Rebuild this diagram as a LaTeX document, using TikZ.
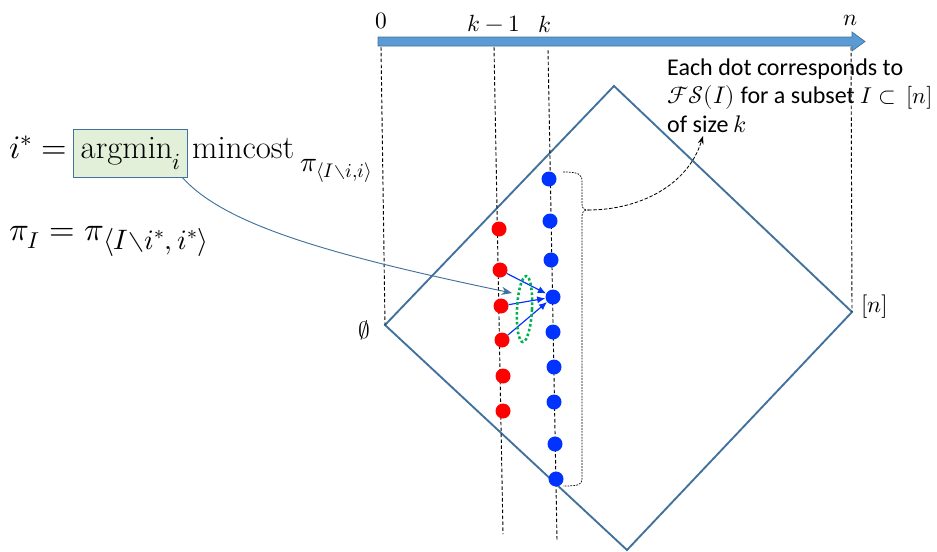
\documentclass[tikz,border=0pt]{standalone}
\usepackage{fontspec}
\usepackage{unicode-math}
\setmathfont{Latin Modern Math}
\newfontfamily\calibri{Carlito}
\usetikzlibrary{arrows.meta,calc}
\definecolor{steel}{RGB}{65,113,156}
\definecolor{axisfill}{RGB}{91,155,213}
\definecolor{dotred}{RGB}{255,0,0}
\definecolor{dotblue}{RGB}{0,51,255}
\definecolor{boxgreen}{RGB}{226,240,217}
\definecolor{ellgreen}{RGB}{0,176,80}
\tikzset{
  guide/.style={draw=black, line width=0.8pt, dash pattern=on 3pt off 2pt},
  reddot/.style={circle, fill=dotred, minimum size=12.8pt, inner sep=0pt},
  bluedot/.style={circle, fill=dotblue, minimum size=12.8pt, inner sep=0pt},
  dotarrow/.style={draw=dotblue, line width=1pt, -{Latex[length=7pt,width=6pt]}},
  big/.style={font=\fontsize{28}{32}\selectfont, inner sep=0pt},
  lab/.style={font=\fontsize{20}{24}\selectfont, inner sep=0pt},
  note/.style={font=\calibri\fontsize{20.5}{24}\selectfont, inner sep=0pt, anchor=base west},
  argbox/.style={draw=steel, fill=boxgreen, line width=0.8pt, minimum width=98pt, minimum height=41pt, inner sep=0pt},
}
\begin{document}
\begin{tikzpicture}[x=0.03cm, y=-0.03cm]
\useasboundingbox (0,0) rectangle (937,551);
% axis arrow
\filldraw[fill=axisfill, draw=steel, line width=0.6pt]
  (378,37) -- (852,37) -- (852,32) -- (865,41.5) -- (852,51) -- (852,46) -- (378,46) -- cycle;
\node[lab, anchor=base] (l0) at (381,28) {$0$};
\node[lab, anchor=base] (lk1) at (494,31) {$k-1$};
\node[lab, anchor=base] (lk) at (545,32) {$k$};
\node[lab, anchor=base] (ln) at (851,25) {$n$};
% diamond
\coordinate (vL) at (385,325);
\coordinate (vT) at (614,86);
\coordinate (vR) at (852,312);
\coordinate (vB) at (627,550);
\draw[steel, line width=1.6pt, line join=miter] (vL) -- (vT) -- (vR) -- (vB) -- cycle;
% guides
\coordinate (g0) at (381,47);
\coordinate (gk1t) at (494,47);
\coordinate (gk1b) at (503,534);
\coordinate (gkt) at (548,50);
\coordinate (gkb) at (557,540);
\coordinate (gn) at (851,47);
\draw[guide] (g0) -- (vL);
\draw[guide] (gk1t) -- (gk1b);
\draw[guide] (gkt) -- (gkb);
\draw[guide] (gn) -- (vR);
\node[lab] (empty) at (364,330) {$\emptyset$};
\node[lab, anchor=west] (nlab) at (861,307) {$[n]$};
% dots
\node[reddot] (r1) at (499,229) {};
\node[reddot] (r2) at (500,270) {};
\node[reddot] (r3) at (501,306) {};
\node[reddot] (r4) at (502,340) {};
\node[reddot] (r5) at (503,376) {};
\node[reddot] (r6) at (503,411) {};
\node[bluedot] (b1) at (549,179) {};
\node[bluedot] (b2) at (550,221) {};
\node[bluedot] (b3) at (551,260) {};
\node[bluedot] (b4) at (553,297) {};
\node[bluedot] (b5) at (553,332) {};
\node[bluedot] (b6) at (554,367) {};
\node[bluedot] (b7) at (554,402) {};
\node[bluedot] (b8) at (555,444) {};
\node[bluedot] (b9) at (556,479) {};
\draw[dotarrow] (r2) -- (b4);
\draw[dotarrow] (r3) -- (b4);
\draw[dotarrow] (r4) -- (b4);
\draw[ellgreen, line width=2.2pt, dash pattern=on 2.2pt off 2pt] (524.5,309) ellipse [x radius=7.5, y radius=33, rotate=-3];
% brace
\coordinate (btip) at (588,210);
\draw[black, line width=0.6pt, dash pattern=on 1.5pt off 1pt]
  (563,172) .. controls (578,172) and (582,174) .. (582,181) -- (582,204)
  .. controls (582,208) and (584,210) .. (btip)
  .. controls (584,210) and (582,212) .. (582,216) -- (582,479)
  .. controls (582,485) and (578,486) .. (563,486);
\coordinate (noteend) at (703,136);
\draw[black, line width=0.7pt, dash pattern=on 3pt off 1.5pt, -{Stealth[length=7pt,width=5pt]}]
  (btip) .. controls (640,210) and (688,185) .. (noteend);
% note
\node[note] (t1) at (667,75) {Each dot corresponds to};
\node[note] (t2) at (667,103) {$\mathcal{F}\mathcal{S}(I)$ for a subset {\fontsize{19.5}{24}\selectfont$I\subset\,[n]$}};
\node[note] (t3) at (667,132) {of size $k$};
% formulas
\node[argbox] (box) at (130.5,153) {};
\node[big, anchor=base west] (istar) at (9,158) {$i^* =$};
\node[big, anchor=base] (argmin) at (131,158) {$\mathrm{argmin}_i$};
\node[big, anchor=base west] (mincost) at (192,158) {$\mathrm{mincost}$};
\node[font=\fontsize{24}{28}\selectfont, inner sep=0pt, anchor=base west] (sub) at (300,171) {$\pi_{\langle I\setminus i,i\rangle}$};
\node[big, anchor=base west] (piI) at (9,240) {$\pi_I = \pi_{\hbox{\fontsize{24}{28}\selectfont$\langle I{\setminus}i^*,i^*\rangle$}}$};
\coordinate (linkend) at (512,293);
\draw[steel, line width=0.8pt, -{Stealth[length=9pt,width=7pt]}]
  ($(box.south east)+(-6,0)$) .. controls (225,225) and (330,255) .. (linkend);
\end{tikzpicture}
\end{document}
